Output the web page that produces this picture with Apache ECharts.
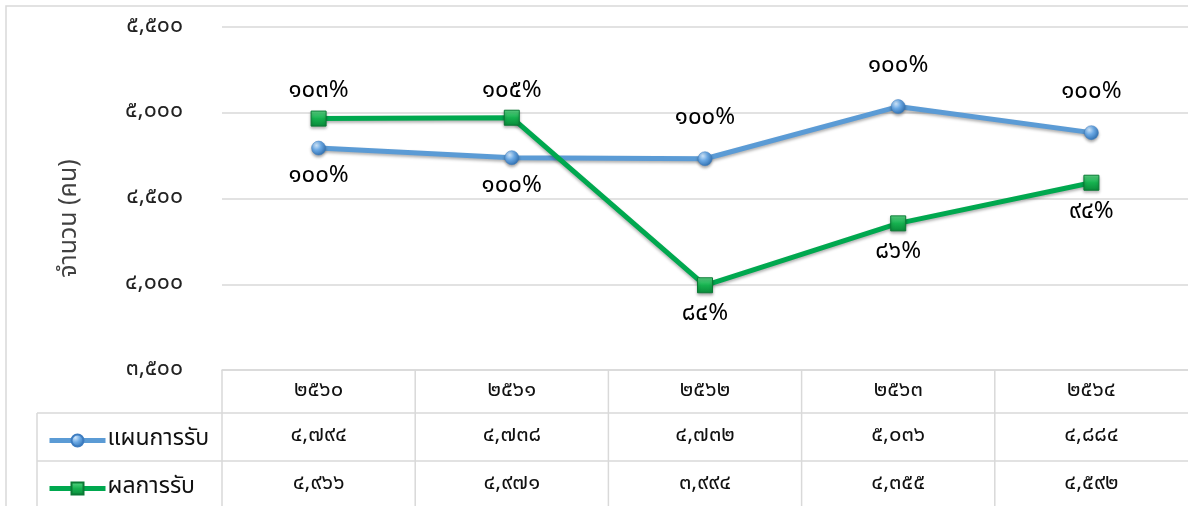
<!DOCTYPE html>
<html>
<head>
<meta charset="utf-8">
<script src="https://cdn.jsdelivr.net/npm/echarts@6/dist/echarts.min.js"></script>
<style>
  html, body { margin: 0; padding: 0; background: #fff; }
  #chart { width: 1188px; height: 506px; }
</style>
</head>
<body>
<div id="chart"></div>
<script>
// ---- data ----
const categories = ['2560', '2561', '2562', '2563', '2564'];
const planValues = [4794, 4738, 4732, 5036, 4884];
const actualValues = [4966, 4971, 3994, 4355, 4592];
const planPctLabels = ['100%', '100%', '100%', '100%', '100%'];
const actualPctLabels = ['103%', '105%', '84%', '86%', '94%'];
const seriesNames = ['แผนการรับ', 'ผลการรับ'];
const yAxisTitle = 'จำนวน (คน)';
const yMin = 3500, yMax = 5500, yInterval = 500;

// ---- helpers ----
const thaiDigits = '๐๑๒๓๔๕๖๗๘๙';
function toThai(s) { return String(s).replace(/[0-9]/g, d => thaiDigits[+d]); }
function fmt(n) { return toThai(Number(n).toLocaleString('en-US')); }

const FONT = 'Tahoma, "Noto Sans Thai", "Noto Sans", sans-serif';
const W = 1188, H = 506;
const gridLeft = 222, gridTop = 27, gridBottom = 136;
const axisY = H - gridBottom;
const colW = (W - gridLeft) / categories.length;
const row1Top = 413, row2Top = 461, tableLeft = 37;
const lineColor = '#d9d9d9';

const planPos = ['bottom', 'bottom', 'top', 'top', 'top'];
const actualPos = ['top', 'top', 'bottom', 'bottom', 'bottom'];

const blueMarker = {
  type: 'radial', x: 0.35, y: 0.3, r: 0.75,
  colorStops: [{ offset: 0, color: '#cfe6fb' }, { offset: 0.45, color: '#6aa8e4' }, { offset: 1, color: '#2f6fb0' }]
};
const greenMarker = {
  type: 'linear', x: 0, y: 0, x2: 0, y2: 1,
  colorStops: [{ offset: 0, color: '#5fdc8a' }, { offset: 0.5, color: '#16b14f' }, { offset: 1, color: '#0a8a3a' }]
};

const labelBase = { show: true, fontSize: 24, color: '#000', fontFamily: FONT };
const tableFont = 22;

const graphics = [];
function hline(x1, x2, y) {
  graphics.push({ type: 'line', shape: { x1, y1: y, x2, y2: y }, style: { stroke: lineColor, lineWidth: 1.5 }, silent: true });
}
function vline(x, y1, y2) {
  graphics.push({ type: 'line', shape: { x1: x, y1, x2: x, y2 }, style: { stroke: lineColor, lineWidth: 1.5 }, silent: true });
}
graphics.push({ type: 'rect', shape: { x: 6, y: 6, width: W + 20, height: H + 40 }, style: { fill: 'none', stroke: lineColor, lineWidth: 1.5 }, silent: true });
hline(tableLeft, W, row1Top);
hline(tableLeft, W, row2Top);
vline(tableLeft, row1Top, H);
for (let i = 0; i < categories.length; i++) vline(gridLeft + colW * i, axisY, H);

function legendFor(name, top) {
  return {
    orient: 'vertical', left: 42, top: top,
    itemWidth: 56, itemHeight: 15,
    lineStyle: { width: 5 },
    textStyle: { fontSize: 23, color: '#111', fontFamily: FONT, padding: [0, 0, 0, -3] },
    data: [name]
  };
}

const chart = echarts.init(document.getElementById('chart'), null, { renderer: 'canvas' });
const option = {
  animation: false,
  backgroundColor: '#fff',
  textStyle: { fontFamily: FONT },
  grid: { left: gridLeft, right: 0, top: gridTop, bottom: gridBottom, containLabel: false },
  legend: [legendFor(seriesNames[0], 424), legendFor(seriesNames[1], 472)],
  xAxis: [
    {
      type: 'category', data: categories, position: 'bottom', boundaryGap: true,
      axisLine: { show: true, lineStyle: { color: lineColor, width: 1.5 } },
      axisTick: { show: false },
      axisLabel: { margin: 22, verticalAlign: 'middle', fontSize: tableFont, color: '#111', fontFamily: FONT, formatter: v => toThai(v) }
    },
    {
      type: 'category', data: categories, position: 'bottom', boundaryGap: true,
      axisLine: { show: false }, axisTick: { show: false },
      axisLabel: { margin: 67, verticalAlign: 'middle', fontSize: tableFont, color: '#111', fontFamily: FONT, formatter: (v, i) => fmt(planValues[i]) }
    },
    {
      type: 'category', data: categories, position: 'bottom', boundaryGap: true,
      axisLine: { show: false }, axisTick: { show: false },
      axisLabel: { margin: 115, verticalAlign: 'middle', fontSize: tableFont, color: '#111', fontFamily: FONT, formatter: (v, i) => fmt(actualValues[i]) }
    }
  ],
  yAxis: {
    type: 'value', min: yMin, max: yMax, interval: yInterval,
    name: yAxisTitle, nameLocation: 'middle', nameGap: 139, nameRotate: 90,
    nameTextStyle: { fontSize: 25, color: '#404040', fontFamily: FONT, padding: [0, 40, 0, 0] },
    axisLine: { show: false }, axisTick: { show: false },
    axisLabel: { margin: 39, fontSize: 23, color: '#222', fontFamily: FONT, formatter: v => fmt(v) },
    splitLine: { show: true, lineStyle: { color: lineColor, width: 1.5 } }
  },
  series: [
    {
      name: seriesNames[0], type: 'line', xAxisIndex: 0,
      data: planValues.map((v, i) => ({ value: v, label: { position: planPos[i], distance: planPos[i] === 'top' ? 20 : 10 } })),
      symbol: 'circle', symbolSize: 14,
      lineStyle: { color: '#5b9bd5', width: 5, shadowColor: 'rgba(0,0,0,0.3)', shadowBlur: 3, shadowOffsetY: 2 },
      itemStyle: { color: blueMarker, borderColor: '#3d7cc0', borderWidth: 0.5, shadowColor: 'rgba(0,0,0,0.35)', shadowBlur: 3, shadowOffsetY: 2 },
      label: Object.assign({}, labelBase, { formatter: p => toThai(planPctLabels[p.dataIndex]) }),
      z: 3
    },
    {
      name: seriesNames[1], type: 'line', xAxisIndex: 0,
      data: actualValues.map((v, i) => ({ value: v, label: { position: actualPos[i], distance: actualPos[i] === 'top' ? 6 : 10 } })),
      symbol: 'rect', symbolSize: 15,
      lineStyle: { color: '#00a84f', width: 5, shadowColor: 'rgba(0,0,0,0.3)', shadowBlur: 3, shadowOffsetY: 2 },
      itemStyle: { color: greenMarker, borderColor: '#0b7a35', borderWidth: 1, shadowColor: 'rgba(0,0,0,0.35)', shadowBlur: 3, shadowOffsetY: 2 },
      label: Object.assign({}, labelBase, { formatter: p => toThai(actualPctLabels[p.dataIndex]) }),
      z: 4
    }
  ],
  graphic: graphics
};
chart.setOption(option);
</script>
</body>
</html>
